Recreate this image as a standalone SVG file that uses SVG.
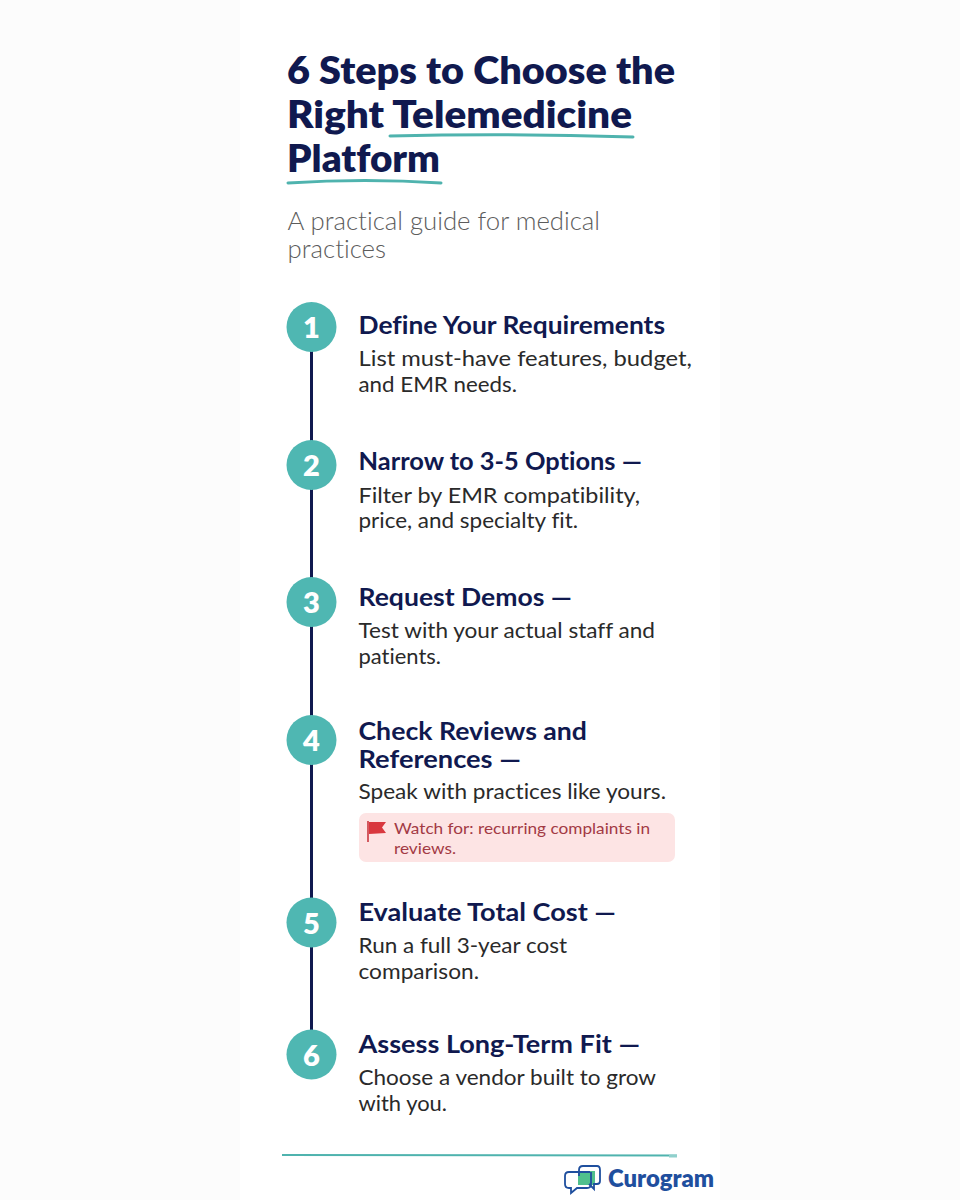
<svg xmlns="http://www.w3.org/2000/svg" width="960" height="1200" viewBox="0 0 960 1200">
<style>
text{font-family:"Lato","Inter","Liberation Sans",sans-serif;font-variant-ligatures:none}
.t{font-size:38px;font-weight:800;fill:#10194f}
.s{font-size:24.5px;font-weight:300;fill:#5c5c5c}
.h{font-size:25px;font-weight:700;fill:#10194f}
.d{font-size:22px;fill:#2a2a2a}
.w{font-size:16px;fill:#a33a44}
.n{font-size:29px;font-weight:800;fill:#fff;text-anchor:middle}
.c{fill:#4fb7b2}
.u{fill:none;stroke:#4fb3ae;stroke-width:3;stroke-linecap:round}
</style>
<rect width="960" height="1200" fill="#fcfcfc"/>
<rect x="240" y="0" width="480" height="1200" fill="#ffffff"/>
<g id="title">
<text class="t" x="287" y="84" textLength="388" lengthAdjust="spacingAndGlyphs">6 Steps to Choose the</text>
<text class="t" x="287" y="128" textLength="345" lengthAdjust="spacingAndGlyphs">Right Telemedicine</text>
<text class="t" x="287" y="172" textLength="153" lengthAdjust="spacingAndGlyphs">Platform</text>
<path class="u" d="M390 136Q510 133 633 137"/>
<path class="u" d="M288 183Q365 178 441 183"/>
<text class="s" x="287.500" y="230" textLength="312.500" lengthAdjust="spacingAndGlyphs">A practical guide for medical</text>
<text class="s" x="287.500" y="258" textLength="98.500" lengthAdjust="spacingAndGlyphs">practices</text>
</g>
<g id="connectors"><line x1="311.500" y1="327" x2="311.500" y2="1054" stroke="#10194f" stroke-width="3"/></g>
<g id="step1"><circle class="c" cx="311.500" cy="327" r="25"/><text class="n" x="311.500" y="338">1</text>
<text class="h" x="358.500" y="334" textLength="306.500" lengthAdjust="spacingAndGlyphs">Define Your Requirements</text>
<text class="d" x="358.500" y="366" textLength="333.500" lengthAdjust="spacingAndGlyphs">List must-have features, budget,</text>
<text class="d" x="358.500" y="391.500" textLength="158.500" lengthAdjust="spacingAndGlyphs">and EMR needs.</text></g>
<g id="step2"><circle class="c" cx="311.500" cy="465" r="25"/><text class="n" x="311.500" y="476">2</text>
<text class="h" x="358.500" y="470" textLength="283.500" lengthAdjust="spacingAndGlyphs">Narrow to 3-5 Options —</text>
<text class="d" x="358.500" y="503" textLength="281.500" lengthAdjust="spacingAndGlyphs">Filter by EMR compatibility,</text>
<text class="d" x="358.500" y="528" textLength="219.500" lengthAdjust="spacingAndGlyphs">price, and specialty fit.</text></g>
<g id="step3"><circle class="c" cx="311.500" cy="602" r="25"/><text class="n" x="311.500" y="613">3</text>
<text class="h" x="358.500" y="606" textLength="213.500" lengthAdjust="spacingAndGlyphs">Request Demos —</text>
<text class="d" x="358.500" y="638" textLength="296.500" lengthAdjust="spacingAndGlyphs">Test with your actual staff and</text>
<text class="d" x="358.500" y="663.500" textLength="82.500" lengthAdjust="spacingAndGlyphs">patients.</text></g>
<g id="step4"><circle class="c" cx="311.500" cy="740" r="25"/><text class="n" x="311.500" y="751">4</text>
<text class="h" x="358.500" y="740" textLength="228.500" lengthAdjust="spacingAndGlyphs">Check Reviews and</text>
<text class="h" x="358.500" y="768" textLength="162.500" lengthAdjust="spacingAndGlyphs">References —</text>
<text class="d" x="358.500" y="799" textLength="307.500" lengthAdjust="spacingAndGlyphs">Speak with practices like yours.</text>
<rect x="359" y="813" width="316" height="49" rx="7" fill="#fde4e4"/>
<path d="M368 821V842" stroke="#c9383f" stroke-width="1.600" fill="none"/>
<path d="M369 822L386 822L382 827.500L386 833L369 834Z" fill="#d9383f"/>
<text class="w" x="394" y="834" textLength="256" lengthAdjust="spacingAndGlyphs">Watch for: recurring complaints in</text>
<text class="w" x="394" y="853.500" textLength="62" lengthAdjust="spacingAndGlyphs">reviews.</text></g>
<g id="step5"><circle class="c" cx="311.500" cy="922.500" r="25"/><text class="n" x="311.500" y="933.500">5</text>
<text class="h" x="358.500" y="921" textLength="257.500" lengthAdjust="spacingAndGlyphs">Evaluate Total Cost —</text>
<text class="d" x="358.500" y="953" textLength="208.500" lengthAdjust="spacingAndGlyphs">Run a full 3-year cost</text>
<text class="d" x="358.500" y="978.500" textLength="120.500" lengthAdjust="spacingAndGlyphs">comparison.</text></g>
<g id="step6"><circle class="c" cx="311.500" cy="1054.500" r="25"/><text class="n" x="311.500" y="1065.500">6</text>
<text class="h" x="358.500" y="1053" textLength="281.500" lengthAdjust="spacingAndGlyphs">Assess Long-Term Fit —</text>
<text class="d" x="358.500" y="1085" textLength="297.500" lengthAdjust="spacingAndGlyphs">Choose a vendor built to grow</text>
<text class="d" x="358.500" y="1110.500" textLength="88.500" lengthAdjust="spacingAndGlyphs">with you.</text></g>
<g id="footer">
<line x1="282" y1="1155" x2="677" y2="1155.500" stroke="#4fb3ae" stroke-width="2"/>
<rect x="669" y="1155" width="8" height="2.500" fill="#8fd0cc"/>
<rect x="578" y="1171" width="17" height="14" fill="#4fc08d"/>
<path d="M579 1176V1170Q579 1166 583 1166H597Q600 1166 600 1170V1181Q600 1184 597 1184H594L594 1189L589 1184" fill="none" stroke="#1f4f9e" stroke-width="1.800"/>
<path d="M590 1172H569Q565 1172 565 1176V1184Q565 1188 569 1188H571L571 1193L577 1188H587Q591 1188 591 1184V1172" fill="none" stroke="#1f4f9e" stroke-width="1.800"/>
<text x="608" y="1187" font-size="24" font-weight="800" fill="#1f4f9e" textLength="106" lengthAdjust="spacingAndGlyphs">Curogram</text>
</g>
</svg>
